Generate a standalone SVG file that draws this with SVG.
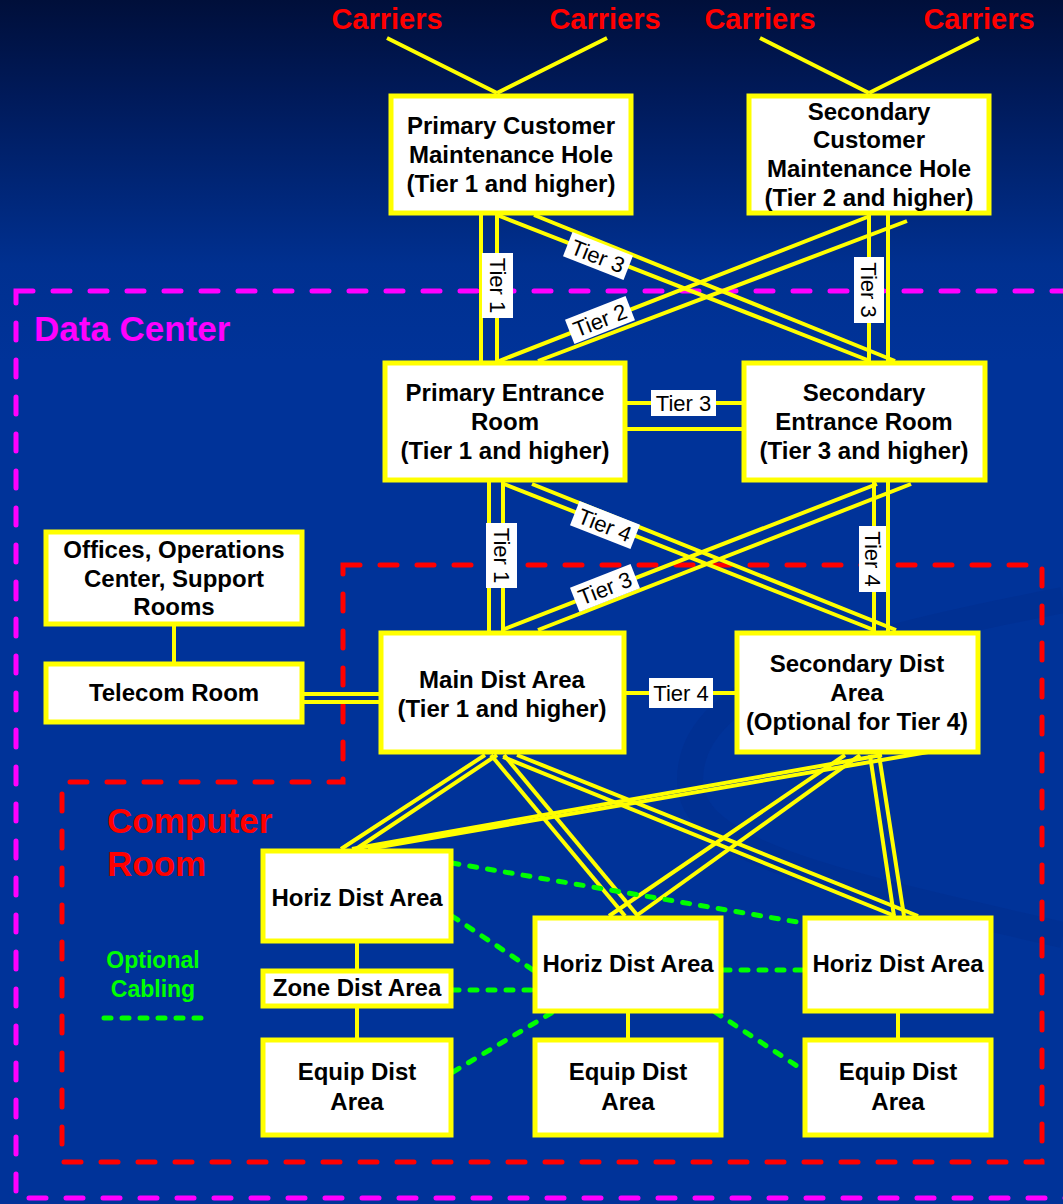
<svg xmlns="http://www.w3.org/2000/svg" width="1063" height="1204" viewBox="0 0 1063 1204">
<defs>
<linearGradient id="bg" x1="0" y1="0" x2="0" y2="1204" gradientUnits="userSpaceOnUse">
<stop offset="0" stop-color="#000f3a"/>
<stop offset="0.08" stop-color="#001a5a"/>
<stop offset="0.22" stop-color="#003090"/>
<stop offset="0.3" stop-color="#003399"/>
<stop offset="1" stop-color="#003399"/>
</linearGradient>
<style>
.node rect{fill:#ffffff;stroke:#ffff00;stroke-width:5}
.node text{font-family:"Liberation Sans",Arial,sans-serif;font-weight:bold;font-size:24px;text-anchor:middle;fill:#000000}
.ln{stroke:#ffff00;stroke-width:4;fill:none}
.opt{stroke:#00ff00;stroke-width:5;stroke-dasharray:7 11;stroke-linecap:round;fill:none}
.tier rect{fill:#ffffff}
.tier text{font-family:"Liberation Sans",Arial,sans-serif;font-size:22px;text-anchor:middle;fill:#000000}
.carrier{font-family:"Liberation Sans",Arial,sans-serif;font-weight:bold;font-size:29px;text-anchor:middle;fill:#ff0000}
.region{fill:none;stroke-width:5;stroke-dasharray:17 20;stroke-linecap:round}
</style>
</defs>
<rect width="1063" height="1204" fill="url(#bg)"/>
<path d="M1063,600 C860,640 690,680 690,780 C690,850 820,880 1063,935" fill="none" stroke="#002d8c" stroke-width="26" opacity="0.45"/>

<g id="carriers">
<text class="carrier" x="387" y="29">Carriers</text>
<text class="carrier" x="605" y="29">Carriers</text>
<text class="carrier" x="760" y="29">Carriers</text>
<text class="carrier" x="979" y="29">Carriers</text>
</g>

<g id="regions">
<rect class="region" stroke="#ff00ff" x="16" y="291" width="1060" height="907"/>
<text x="34" y="341" font-family="Liberation Sans, Arial, sans-serif" font-weight="bold" font-size="35" fill="#ff00ff">Data Center</text>
<path class="region" stroke="#ff0000" d="M343,565 H1042 V1162 H62 V782 H343 Z"/>
<text font-family="Liberation Sans, Arial, sans-serif" font-weight="bold" font-size="35" fill="#ff0000"><tspan x="107" y="833">Computer</tspan><tspan x="107" y="876">Room</tspan></text>
<text font-family="Liberation Sans, Arial, sans-serif" font-weight="bold" font-size="23" fill="#00ff00" text-anchor="middle"><tspan x="153" y="968">Optional</tspan><tspan x="153" y="997">Cabling</tspan></text>
<line class="opt" x1="104" y1="1018" x2="203" y2="1018"/>
</g>

<g id="connectors">
<!-- carriers -->
<line class="ln" x1="387" y1="38" x2="497" y2="93"/>
<line class="ln" x1="607" y1="38" x2="497" y2="93"/>
<line class="ln" x1="760" y1="38" x2="869" y2="93"/>
<line class="ln" x1="979" y1="38" x2="869" y2="93"/>
<!-- CMH to ER -->
<line class="ln" x1="481" y1="213" x2="481" y2="361"/>
<line class="ln" x1="497" y1="213" x2="497" y2="361"/>
<line class="ln" x1="869" y1="213" x2="869" y2="363"/>
<line class="ln" x1="888" y1="213" x2="888" y2="363"/>
<line class="ln" x1="497" y1="215" x2="870" y2="361"/>
<line class="ln" x1="534" y1="215" x2="895" y2="361"/>
<line class="ln" x1="870" y1="216" x2="499" y2="361"/>
<line class="ln" x1="907" y1="221" x2="538" y2="361"/>
<!-- ER to ER -->
<line class="ln" x1="627" y1="403" x2="742" y2="403"/>
<line class="ln" x1="627" y1="429" x2="742" y2="429"/>
<!-- ER to DA -->
<line class="ln" x1="489" y1="482" x2="489" y2="631"/>
<line class="ln" x1="503" y1="482" x2="503" y2="631"/>
<line class="ln" x1="874" y1="482" x2="874" y2="633"/>
<line class="ln" x1="888" y1="482" x2="888" y2="633"/>
<line class="ln" x1="504" y1="484" x2="874" y2="630"/>
<line class="ln" x1="532" y1="484" x2="896" y2="630"/>
<line class="ln" x1="877" y1="484" x2="502" y2="630"/>
<line class="ln" x1="911" y1="484" x2="538" y2="630"/>
<!-- MDA links -->
<line class="ln" x1="626" y1="693" x2="735" y2="693"/>
<line class="ln" x1="304" y1="694" x2="380" y2="694"/>
<line class="ln" x1="304" y1="702" x2="380" y2="702"/>
<line class="ln" x1="174" y1="626" x2="174" y2="662"/>
<!-- DA to HDA -->
<line class="ln" x1="485" y1="755" x2="341" y2="849"/>
<line class="ln" x1="497" y1="755" x2="356" y2="849"/>
<line class="ln" x1="491" y1="755" x2="625" y2="916"/>
<line class="ln" x1="504" y1="755" x2="638" y2="916"/>
<line class="ln" x1="503" y1="757" x2="895" y2="916"/>
<line class="ln" x1="517" y1="755" x2="918" y2="916"/>
<line class="ln" x1="882" y1="755" x2="352" y2="849"/>
<line class="ln" x1="928" y1="752" x2="368" y2="849"/>
<line class="ln" x1="845" y1="755" x2="609" y2="916"/>
<line class="ln" x1="860" y1="755" x2="636" y2="916"/>
<line class="ln" x1="870" y1="755" x2="894" y2="916"/>
<line class="ln" x1="879" y1="755" x2="904" y2="916"/>
<!-- HDA to ZDA / EDA -->
<line class="ln" x1="357" y1="943" x2="357" y2="970"/>
<line class="ln" x1="357" y1="1008" x2="357" y2="1038"/>
<line class="ln" x1="628" y1="1013" x2="628" y2="1038"/>
<line class="ln" x1="898" y1="1013" x2="898" y2="1038"/>
<!-- optional cabling -->
<line class="opt" x1="452" y1="863" x2="803" y2="923"/>
<line class="opt" x1="452" y1="916" x2="533" y2="970"/>
<line class="opt" x1="452" y1="990" x2="533" y2="990"/>
<line class="opt" x1="453" y1="1072" x2="553" y2="1012"/>
<line class="opt" x1="723" y1="970" x2="803" y2="970"/>
<line class="opt" x1="715" y1="1012" x2="800" y2="1068"/>
<!-- tier labels -->
<g class="tier" transform="translate(497.5,285.5) rotate(90)"><rect x="-32.5" y="-15.5" width="65" height="31"/><text y="8">Tier 1</text></g>
<g class="tier" transform="translate(869,290) rotate(90)"><rect x="-33" y="-15" width="66" height="30"/><text y="8">Tier 3</text></g>
<g class="tier" transform="translate(598,256) rotate(21.4)"><rect x="-32.5" y="-13" width="65" height="26"/><text y="8">Tier 3</text></g>
<g class="tier" transform="translate(600,320) rotate(-21.3)"><rect x="-32.5" y="-13" width="65" height="26"/><text y="8">Tier 2</text></g>
<g class="tier" transform="translate(683.5,403)"><rect x="-32.5" y="-13" width="65" height="26"/><text y="8">Tier 3</text></g>
<g class="tier" transform="translate(501.5,555.5) rotate(90)"><rect x="-32.5" y="-15.5" width="65" height="31"/><text y="8">Tier 1</text></g>
<g class="tier" transform="translate(872.5,559) rotate(90)"><rect x="-33" y="-13.5" width="66" height="27"/><text y="8">Tier 4</text></g>
<g class="tier" transform="translate(605,525) rotate(21.5)"><rect x="-32.5" y="-13" width="65" height="26"/><text y="8">Tier 4</text></g>
<g class="tier" transform="translate(605,588) rotate(-21.3)"><rect x="-32.5" y="-13" width="65" height="26"/><text y="8">Tier 3</text></g>
<g class="tier" transform="translate(681,693)"><rect x="-32" y="-15" width="64" height="30"/><text y="8">Tier 4</text></g>
</g>

<g id="pcmh" class="node"><rect x="391" y="96" width="240" height="117"/><text><tspan x="511" y="134">Primary Customer</tspan><tspan x="511" y="163">Maintenance Hole</tspan><tspan x="511" y="192">(Tier 1 and higher)</tspan></text></g>
<g id="scmh" class="node"><rect x="749" y="96" width="240" height="117"/><text><tspan x="869" y="120">Secondary</tspan><tspan x="869" y="148">Customer</tspan><tspan x="869" y="177">Maintenance Hole</tspan><tspan x="869" y="206">(Tier 2 and higher)</tspan></text></g>
<g id="per" class="node"><rect x="385" y="363" width="240" height="117"/><text><tspan x="505" y="401">Primary Entrance</tspan><tspan x="505" y="430">Room</tspan><tspan x="505" y="459">(Tier 1 and higher)</tspan></text></g>
<g id="ser" class="node"><rect x="744" y="363" width="241" height="117"/><text><tspan x="864" y="401">Secondary</tspan><tspan x="864" y="430">Entrance Room</tspan><tspan x="864" y="459">(Tier 3 and higher)</tspan></text></g>
<g id="offices" class="node"><rect x="46" y="532" width="256" height="92"/><text><tspan x="174" y="558">Offices, Operations</tspan><tspan x="174" y="587">Center, Support</tspan><tspan x="174" y="615">Rooms</tspan></text></g>
<g id="telecom" class="node"><rect x="46" y="664" width="256" height="58"/><text x="174" y="701">Telecom Room</text></g>
<g id="mda" class="node"><rect x="381" y="633" width="243" height="119"/><text><tspan x="502" y="688">Main Dist Area</tspan><tspan x="502" y="717">(Tier 1 and higher)</tspan></text></g>
<g id="sda" class="node"><rect x="737" y="633" width="241" height="119"/><text><tspan x="857" y="672">Secondary Dist</tspan><tspan x="857" y="701">Area</tspan><tspan x="857" y="730">(Optional for Tier 4)</tspan></text></g>
<g id="hda1" class="node"><rect x="263" y="851" width="188" height="90"/><text x="357" y="906">Horiz Dist Area</text></g>
<g id="zda" class="node"><rect x="263" y="971" width="188" height="35"/><text x="357" y="996">Zone Dist Area</text></g>
<g id="eda1" class="node"><rect x="263" y="1040" width="188" height="95"/><text><tspan x="357" y="1080">Equip Dist</tspan><tspan x="357" y="1110">Area</tspan></text></g>
<g id="hda2" class="node"><rect x="535" y="918" width="186" height="93"/><text x="628" y="972">Horiz Dist Area</text></g>
<g id="eda2" class="node"><rect x="535" y="1040" width="186" height="95"/><text><tspan x="628" y="1080">Equip Dist</tspan><tspan x="628" y="1110">Area</tspan></text></g>
<g id="hda3" class="node"><rect x="805" y="918" width="186" height="93"/><text x="898" y="972">Horiz Dist Area</text></g>
<g id="eda3" class="node"><rect x="805" y="1040" width="186" height="95"/><text><tspan x="898" y="1080">Equip Dist</tspan><tspan x="898" y="1110">Area</tspan></text></g>
</svg>
